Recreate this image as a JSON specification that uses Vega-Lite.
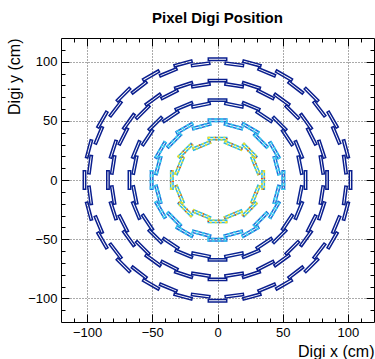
{
  "$schema": "https://vega.github.io/schema/vega-lite/v6.json",
  "width": 313,
  "height": 284,
  "autosize": {"type": "none"},
  "padding": {"left": 61, "top": 38, "right": 1, "bottom": 37},
  "title": {"text": "Pixel Digi Position", "font": "Liberation Sans", "fontSize": 15, "fontWeight": "bold", "color": "black", "offset": 12},
  "config": {
    "view": {"stroke": "black", "strokeWidth": 1},
    "axis": {"labelFont": "Liberation Sans", "titleFont": "Liberation Sans", "labelFontSize": 13, "titleFontSize": 16, "titleFontWeight": "normal", "labelColor": "black", "titleColor": "black", "domain": false, "tickColor": "black", "tickWidth": 1}
  },
  "datasets": {
    "staves": [
      {"l":"L1","p":0,"x":35,"y":0},{"l":"L1","p":22.5,"x":29.1,"y":12.1},{"l":"L1","p":45,"x":24.7,"y":24.7},{"l":"L1","p":67.5,"x":12.1,"y":29.1},
      {"l":"L1","p":90,"x":0,"y":35},{"l":"L1","p":112.5,"x":-12.1,"y":29.1},{"l":"L1","p":135,"x":-24.7,"y":24.7},{"l":"L1","p":157.5,"x":-29.1,"y":12.1},
      {"l":"L1","p":180,"x":-35,"y":0},{"l":"L1","p":202.5,"x":-29.1,"y":-12.1},{"l":"L1","p":225,"x":-24.7,"y":-24.7},{"l":"L1","p":247.5,"x":-12.1,"y":-29.1},
      {"l":"L1","p":270,"x":0,"y":-35},{"l":"L1","p":292.5,"x":12.1,"y":-29.1},{"l":"L1","p":315,"x":24.7,"y":-24.7},{"l":"L1","p":337.5,"x":29.1,"y":-12.1},

      {"l":"L2","p":0,"x":50.5,"y":0},{"l":"L2","p":15,"x":45.4,"y":12.2},{"l":"L2","p":30,"x":43.7,"y":25.3},{"l":"L2","p":45,"x":33.2,"y":33.2},
      {"l":"L2","p":60,"x":25.3,"y":43.7},{"l":"L2","p":75,"x":12.2,"y":45.4},{"l":"L2","p":90,"x":0,"y":50.5},{"l":"L2","p":105,"x":-12.2,"y":45.4},
      {"l":"L2","p":120,"x":-25.3,"y":43.7},{"l":"L2","p":135,"x":-33.2,"y":33.2},{"l":"L2","p":150,"x":-43.7,"y":25.3},{"l":"L2","p":165,"x":-45.4,"y":12.2},
      {"l":"L2","p":180,"x":-50.5,"y":0},{"l":"L2","p":195,"x":-45.4,"y":-12.2},{"l":"L2","p":210,"x":-43.7,"y":-25.3},{"l":"L2","p":225,"x":-33.2,"y":-33.2},
      {"l":"L2","p":240,"x":-25.3,"y":-43.7},{"l":"L2","p":255,"x":-12.2,"y":-45.4},{"l":"L2","p":270,"x":0,"y":-50.5},{"l":"L2","p":285,"x":12.2,"y":-45.4},
      {"l":"L2","p":300,"x":25.3,"y":-43.7},{"l":"L2","p":315,"x":33.2,"y":-33.2},{"l":"L2","p":330,"x":43.7,"y":-25.3},{"l":"L2","p":345,"x":45.4,"y":-12.2},

      {"l":"L3","p":0,"x":67.5,"y":0},{"l":"L3","p":11.25,"x":63.3,"y":12.6},{"l":"L3","p":22.5,"x":62.4,"y":25.8},{"l":"L3","p":33.75,"x":53.6,"y":35.8},
      {"l":"L3","p":45,"x":47.7,"y":47.7},{"l":"L3","p":56.25,"x":35.8,"y":53.6},{"l":"L3","p":67.5,"x":25.8,"y":62.4},{"l":"L3","p":78.75,"x":12.6,"y":63.3},
      {"l":"L3","p":90,"x":0,"y":67.5},{"l":"L3","p":101.25,"x":-12.6,"y":63.3},{"l":"L3","p":112.5,"x":-25.8,"y":62.4},{"l":"L3","p":123.75,"x":-35.8,"y":53.6},
      {"l":"L3","p":135,"x":-47.7,"y":47.7},{"l":"L3","p":146.25,"x":-53.6,"y":35.8},{"l":"L3","p":157.5,"x":-62.4,"y":25.8},{"l":"L3","p":168.75,"x":-63.3,"y":12.6},
      {"l":"L3","p":180,"x":-67.5,"y":0},{"l":"L3","p":191.25,"x":-63.3,"y":-12.6},{"l":"L3","p":202.5,"x":-62.4,"y":-25.8},{"l":"L3","p":213.75,"x":-53.6,"y":-35.8},
      {"l":"L3","p":225,"x":-47.7,"y":-47.7},{"l":"L3","p":236.25,"x":-35.8,"y":-53.6},{"l":"L3","p":247.5,"x":-25.8,"y":-62.4},{"l":"L3","p":258.75,"x":-12.6,"y":-63.3},
      {"l":"L3","p":270,"x":0,"y":-67.5},{"l":"L3","p":281.25,"x":12.6,"y":-63.3},{"l":"L3","p":292.5,"x":25.8,"y":-62.4},{"l":"L3","p":303.75,"x":35.8,"y":-53.6},
      {"l":"L3","p":315,"x":47.7,"y":-47.7},{"l":"L3","p":326.25,"x":53.6,"y":-35.8},{"l":"L3","p":337.5,"x":62.4,"y":-25.8},{"l":"L3","p":348.75,"x":63.3,"y":-12.6},

      {"l":"L4","p":0,"x":84,"y":0},{"l":"L4","p":9,"x":80.0,"y":12.7},{"l":"L4","p":18,"x":79.9,"y":26.0},{"l":"L4","p":27,"x":72.2,"y":36.8},
      {"l":"L4","p":36,"x":68.0,"y":49.4},{"l":"L4","p":45,"x":57.3,"y":57.3},{"l":"L4","p":54,"x":49.4,"y":68.0},{"l":"L4","p":63,"x":36.8,"y":72.2},
      {"l":"L4","p":72,"x":26.0,"y":79.9},{"l":"L4","p":81,"x":12.7,"y":80.0},{"l":"L4","p":90,"x":0,"y":84},{"l":"L4","p":99,"x":-12.7,"y":80.0},
      {"l":"L4","p":108,"x":-26.0,"y":79.9},{"l":"L4","p":117,"x":-36.8,"y":72.2},{"l":"L4","p":126,"x":-49.4,"y":68.0},{"l":"L4","p":135,"x":-57.3,"y":57.3},
      {"l":"L4","p":144,"x":-68.0,"y":49.4},{"l":"L4","p":153,"x":-72.2,"y":36.8},{"l":"L4","p":162,"x":-79.9,"y":26.0},{"l":"L4","p":171,"x":-80.0,"y":12.7},
      {"l":"L4","p":180,"x":-84,"y":0},{"l":"L4","p":189,"x":-80.0,"y":-12.7},{"l":"L4","p":198,"x":-79.9,"y":-26.0},{"l":"L4","p":207,"x":-72.2,"y":-36.8},
      {"l":"L4","p":216,"x":-68.0,"y":-49.4},{"l":"L4","p":225,"x":-57.3,"y":-57.3},{"l":"L4","p":234,"x":-49.4,"y":-68.0},{"l":"L4","p":243,"x":-36.8,"y":-72.2},
      {"l":"L4","p":252,"x":-26.0,"y":-79.9},{"l":"L4","p":261,"x":-12.7,"y":-80.0},{"l":"L4","p":270,"x":0,"y":-84},{"l":"L4","p":279,"x":12.7,"y":-80.0},
      {"l":"L4","p":288,"x":26.0,"y":-79.9},{"l":"L4","p":297,"x":36.8,"y":-72.2},{"l":"L4","p":306,"x":49.4,"y":-68.0},{"l":"L4","p":315,"x":57.3,"y":-57.3},
      {"l":"L4","p":324,"x":68.0,"y":-49.4},{"l":"L4","p":333,"x":72.2,"y":-36.8},{"l":"L4","p":342,"x":79.9,"y":-26.0},{"l":"L4","p":351,"x":80.0,"y":-12.7},

      {"l":"L5","p":0,"x":102,"y":0},{"l":"L5","p":7.5,"x":97.7,"y":12.9},{"l":"L5","p":15,"x":98.5,"y":26.4},{"l":"L5","p":22.5,"x":91.0,"y":37.7},
      {"l":"L5","p":30,"x":88.3,"y":51.0},{"l":"L5","p":37.5,"x":78.1,"y":60.0},{"l":"L5","p":45,"x":72.1,"y":72.1},{"l":"L5","p":52.5,"x":60.0,"y":78.1},
      {"l":"L5","p":60,"x":51.0,"y":88.3},{"l":"L5","p":67.5,"x":37.7,"y":91.0},{"l":"L5","p":75,"x":26.4,"y":98.5},{"l":"L5","p":82.5,"x":12.9,"y":97.7},
      {"l":"L5","p":90,"x":0,"y":102},{"l":"L5","p":97.5,"x":-12.9,"y":97.7},{"l":"L5","p":105,"x":-26.4,"y":98.5},{"l":"L5","p":112.5,"x":-37.7,"y":91.0},
      {"l":"L5","p":120,"x":-51.0,"y":88.3},{"l":"L5","p":127.5,"x":-60.0,"y":78.1},{"l":"L5","p":135,"x":-72.1,"y":72.1},{"l":"L5","p":142.5,"x":-78.1,"y":60.0},
      {"l":"L5","p":150,"x":-88.3,"y":51.0},{"l":"L5","p":157.5,"x":-91.0,"y":37.7},{"l":"L5","p":165,"x":-98.5,"y":26.4},{"l":"L5","p":172.5,"x":-97.7,"y":12.9},
      {"l":"L5","p":180,"x":-102,"y":0},{"l":"L5","p":187.5,"x":-97.7,"y":-12.9},{"l":"L5","p":195,"x":-98.5,"y":-26.4},{"l":"L5","p":202.5,"x":-91.0,"y":-37.7},
      {"l":"L5","p":210,"x":-88.3,"y":-51.0},{"l":"L5","p":217.5,"x":-78.1,"y":-60.0},{"l":"L5","p":225,"x":-72.1,"y":-72.1},{"l":"L5","p":232.5,"x":-60.0,"y":-78.1},
      {"l":"L5","p":240,"x":-51.0,"y":-88.3},{"l":"L5","p":247.5,"x":-37.7,"y":-91.0},{"l":"L5","p":255,"x":-26.4,"y":-98.5},{"l":"L5","p":262.5,"x":-12.9,"y":-97.7},
      {"l":"L5","p":270,"x":0,"y":-102},{"l":"L5","p":277.5,"x":12.9,"y":-97.7},{"l":"L5","p":285,"x":26.4,"y":-98.5},{"l":"L5","p":292.5,"x":37.7,"y":-91.0},
      {"l":"L5","p":300,"x":51.0,"y":-88.3},{"l":"L5","p":307.5,"x":60.0,"y":-78.1},{"l":"L5","p":315,"x":72.1,"y":-72.1},{"l":"L5","p":322.5,"x":78.1,"y":-60.0},
      {"l":"L5","p":330,"x":88.3,"y":-51.0},{"l":"L5","p":337.5,"x":91.0,"y":-37.7},{"l":"L5","p":345,"x":98.5,"y":-26.4},{"l":"L5","p":352.5,"x":97.7,"y":-12.9}
    ]
  },
  "layer": [
    {
      "data": {"name": "staves"},
      "mark": {"type": "point", "shape": "M-1,-0.13H1V0.13H-1Z", "filled": false, "strokeWidth": 1.5, "size": 340, "opacity": 1},
      "encoding": {
        "x": {"field": "x", "type": "quantitative", "scale": {"domain": [-120, 120], "nice": false, "zero": false},
              "axis": {"orient": "bottom", "values": [-100, -50, 0, 50, 100], "tickSize": -8, "labelPadding": 12, "grid": true, "gridDash": [1, 2], "gridColor": "#555", "title": "Digi x (cm)", "titleAnchor": "end", "titlePadding": 4}},
        "y": {"field": "y", "type": "quantitative", "scale": {"domain": [-120, 120], "nice": false, "zero": false},
              "axis": {"orient": "left", "values": [-100, -50, 0, 50, 100], "tickSize": -8, "labelPadding": 12, "grid": true, "gridDash": [1, 2], "gridColor": "#555", "title": "Digi y (cm)", "titleAnchor": "end", "titlePadding": 5}},
        "color": {"field": "l", "type": "nominal", "scale": {"domain": ["L1", "L2", "L3", "L4", "L5"], "range": ["#28b8e8", "#1f6ed8", "#0a2492", "#0a1e8e", "#0a1e8e"]}, "legend": null},
        "angle": {"field": "p", "type": "quantitative", "scale": {"domain": [0, 360], "range": [90, -270]}}
      }
    },
    {
      "data": {"name": "staves"},
      "transform": [{"filter": "datum.l == 'L1'"}],
      "mark": {"type": "point", "shape": "M-1,-0.13H1V0.13H-1Z", "filled": false, "strokeWidth": 1.5, "size": 340, "strokeDash": [2, 3], "stroke": "#f0e020", "opacity": 1},
      "encoding": {
        "x": {"field": "x", "type": "quantitative", "axis": {"orient": "bottom", "values": [-110, -90, -80, -70, -60, -40, -30, -20, -10, 10, 20, 30, 40, 60, 70, 80, 90, 110], "tickSize": -4, "labels": false, "grid": false, "title": null}},
        "y": {"field": "y", "type": "quantitative", "axis": {"orient": "left", "values": [-110, -90, -80, -70, -60, -40, -30, -20, -10, 10, 20, 30, 40, 60, 70, 80, 90, 110], "tickSize": -4, "labels": false, "grid": false, "title": null}},
        "angle": {"field": "p", "type": "quantitative", "scale": {"domain": [0, 360], "range": [90, -270]}}
      }
    },
    {
      "data": {"name": "staves"},
      "transform": [{"filter": "datum.l == 'L2'"}],
      "mark": {"type": "point", "shape": "M-1,-0.13H1V0.13H-1Z", "filled": false, "strokeWidth": 1.5, "size": 340, "strokeDash": [3, 3], "stroke": "#38d0f0", "opacity": 1},
      "encoding": {
        "x": {"field": "x", "type": "quantitative", "axis": {"orient": "top", "values": [-100, -50, 0, 50, 100], "tickSize": -8, "labels": false, "grid": false, "title": null}},
        "y": {"field": "y", "type": "quantitative", "axis": {"orient": "right", "values": [-100, -50, 0, 50, 100], "tickSize": -8, "labels": false, "grid": false, "title": null}},
        "angle": {"field": "p", "type": "quantitative", "scale": {"domain": [0, 360], "range": [90, -270]}}
      }
    },
    {
      "data": {"name": "staves"},
      "transform": [{"filter": "datum.l == 'L1'"}],
      "mark": {"type": "point", "shape": "M-1,-0.13H1V0.13H-1Z", "filled": false, "strokeWidth": 1.5, "size": 340, "strokeDash": [1, 11], "strokeDashOffset": 5, "stroke": "#e83020", "opacity": 1},
      "encoding": {
        "x": {"field": "x", "type": "quantitative", "axis": {"orient": "top", "values": [-110, -90, -80, -70, -60, -40, -30, -20, -10, 10, 20, 30, 40, 60, 70, 80, 90, 110], "tickSize": -4, "labels": false, "grid": false, "title": null}},
        "y": {"field": "y", "type": "quantitative", "axis": {"orient": "right", "values": [-110, -90, -80, -70, -60, -40, -30, -20, -10, 10, 20, 30, 40, 60, 70, 80, 90, 110], "tickSize": -4, "labels": false, "grid": false, "title": null}},
        "angle": {"field": "p", "type": "quantitative", "scale": {"domain": [0, 360], "range": [90, -270]}}
      }
    }
  ],
  "resolve": {"axis": {"x": "independent", "y": "independent"}}
}
